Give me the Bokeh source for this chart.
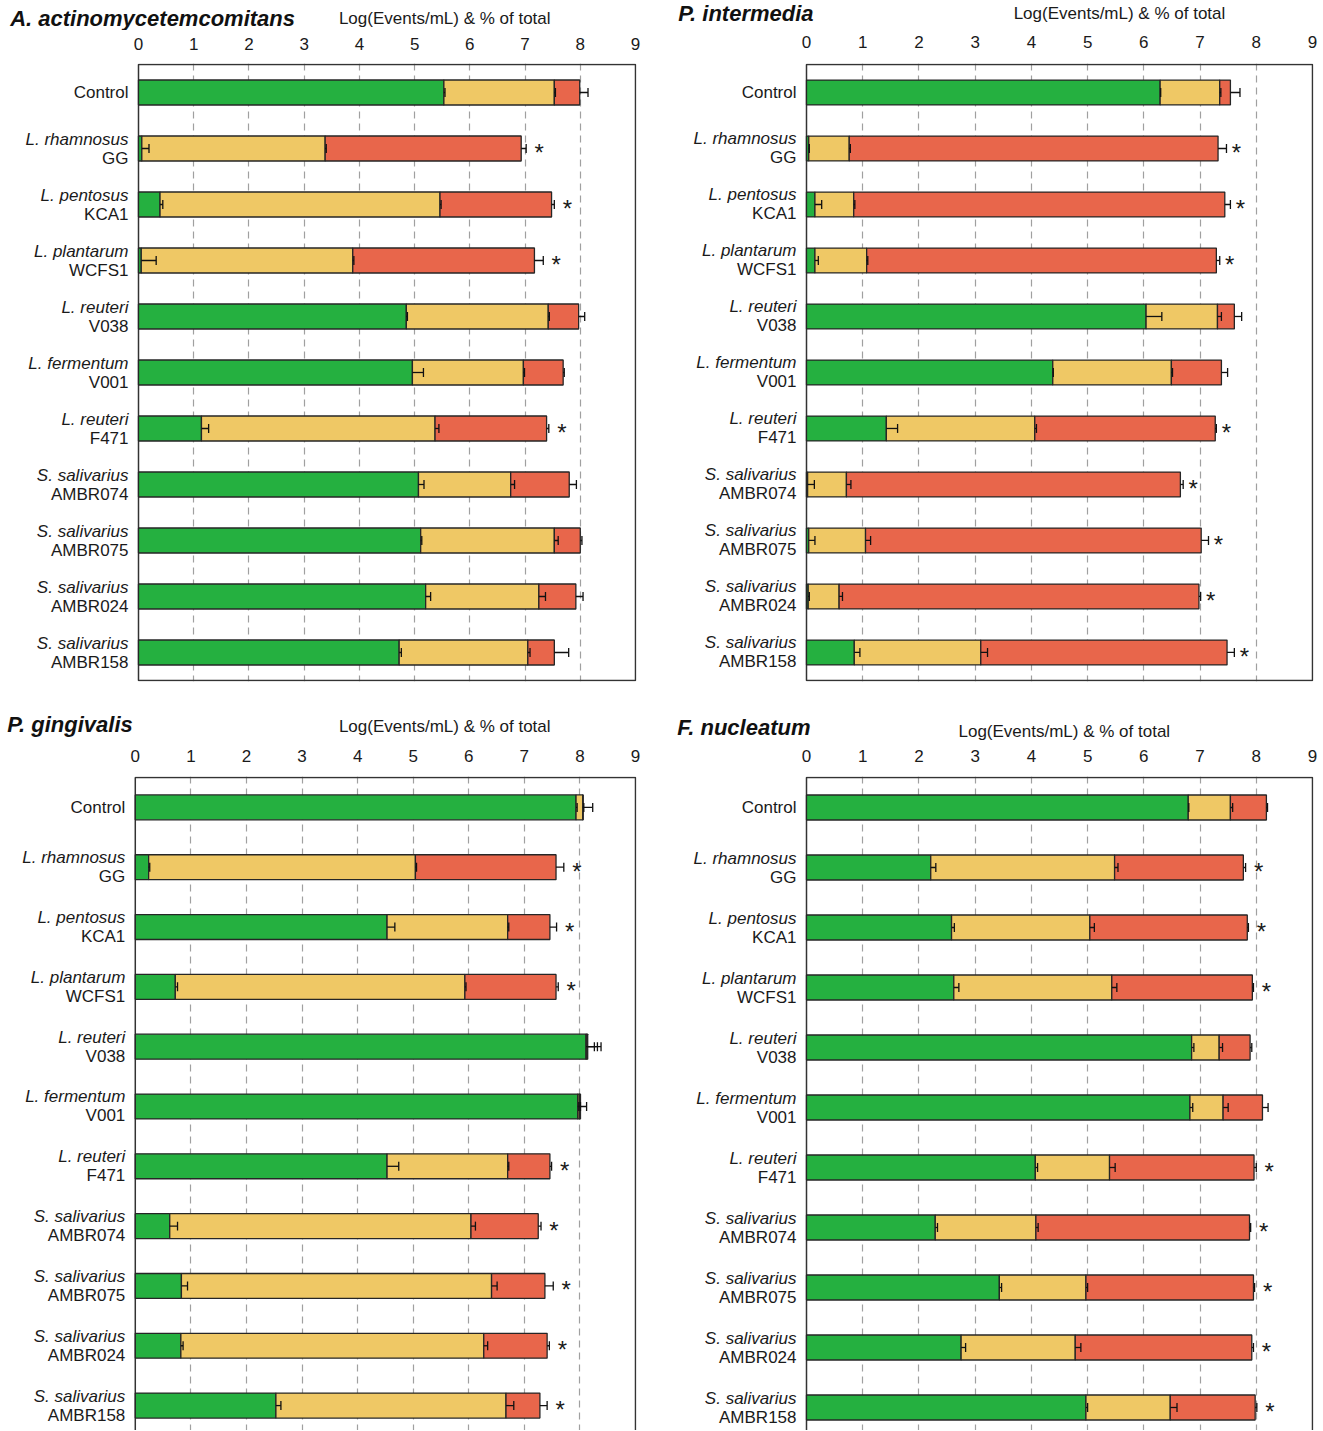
from bokeh.plotting import figure
from bokeh.models import Range1d, FixedTicker, ColumnDataSource
from bokeh.layouts import gridplot
from bokeh.embed import file_html
from bokeh.resources import INLINE
from bokeh.core.properties import value

# ---------------- data ----------------
species = ["", "L. rhamnosus", "L. pentosus", "L. plantarum", "L. reuteri", "L. fermentum",
           "L. reuteri", "S. salivarius", "S. salivarius", "S. salivarius", "S. salivarius"]
strains = ["Control", "GG", "KCA1", "WCFS1", "V038", "V001", "F471",
           "AMBR074", "AMBR075", "AMBR024", "AMBR158"]
x_ticks = [0, 1, 2, 3, 4, 5, 6, 7, 8, 9]
axis_title = "Log(Events/mL) & % of total"

# Panel A: A. actinomycetemcomitans (cumulative segment ends)
a_green = [5.53, 0.06, 0.39, 0.05, 4.85, 4.96, 1.14, 5.07, 5.11, 5.20, 4.72]
a_yellow = [7.53, 3.38, 5.46, 3.88, 7.42, 6.97, 5.37, 6.74, 7.53, 7.25, 7.05]
a_total = [7.99, 6.93, 7.48, 7.17, 7.97, 7.69, 7.39, 7.80, 8.00, 7.92, 7.53]
a_green_err = [0.02, 0.13, 0.05, 0.27, 0.02, 0.20, 0.13, 0.10, 0.02, 0.09, 0.04]
a_yellow_err = [0.02, 0.02, 0.02, 0.02, 0.02, 0.02, 0.07, 0.07, 0.07, 0.12, 0.04]
a_total_err = [0.15, 0.09, 0.05, 0.16, 0.11, 0.02, 0.04, 0.13, 0.03, 0.13, 0.26]
a_sig = [0, 1, 1, 1, 0, 0, 1, 0, 0, 0, 0]

# Panel B: P. intermedia
b_green = [6.29, 0.04, 0.15, 0.15, 6.04, 4.38, 1.42, 0.02, 0.04, 0.03, 0.85]
b_yellow = [7.35, 0.76, 0.84, 1.07, 7.31, 6.49, 4.06, 0.71, 1.05, 0.58, 3.10]
b_total = [7.54, 7.32, 7.44, 7.29, 7.61, 7.38, 7.27, 6.65, 7.02, 6.98, 7.48]
b_green_err = [0.01, 0.01, 0.12, 0.06, 0.28, 0.01, 0.20, 0.12, 0.11, 0.02, 0.10]
b_yellow_err = [0.02, 0.02, 0.02, 0.02, 0.07, 0.02, 0.03, 0.08, 0.09, 0.06, 0.12]
b_total_err = [0.17, 0.15, 0.10, 0.06, 0.13, 0.11, 0.02, 0.05, 0.13, 0.03, 0.13]
b_sig = [0, 1, 1, 1, 0, 0, 1, 1, 1, 1, 1]

# Panel C: P. gingivalis
c_green = [7.93, 0.24, 4.53, 0.72, 8.11, 7.96, 4.53, 0.62, 0.83, 0.82, 2.53]
c_yellow = [8.05, 5.04, 6.70, 5.93, 8.125, 7.99, 6.70, 6.04, 6.41, 6.27, 6.67]
c_total = [8.06, 7.57, 7.46, 7.57, 8.14, 8.01, 7.46, 7.25, 7.37, 7.41, 7.28]
c_green_err = [0.02, 0.02, 0.14, 0.04, 0.15, 0.02, 0.21, 0.14, 0.11, 0.04, 0.09]
c_yellow_err = [0.02, 0.02, 0.02, 0.02, 0.19, 0.02, 0.02, 0.08, 0.10, 0.07, 0.14]
c_total_err = [0.17, 0.14, 0.12, 0.04, 0.24, 0.11, 0.03, 0.05, 0.15, 0.04, 0.13]
c_sig = [0, 1, 1, 1, 0, 0, 1, 1, 1, 1, 1]

# Panel D: F. nucleatum
d_green = [6.79, 2.21, 2.58, 2.62, 6.85, 6.82, 4.07, 2.29, 3.43, 2.75, 4.97]
d_yellow = [7.54, 5.48, 5.04, 5.43, 7.34, 7.41, 5.39, 4.08, 4.97, 4.78, 6.47]
d_total = [8.18, 7.77, 7.84, 7.93, 7.89, 8.11, 7.96, 7.88, 7.95, 7.92, 7.98]
d_green_err = [0.01, 0.09, 0.05, 0.09, 0.04, 0.05, 0.04, 0.04, 0.04, 0.08, 0.03]
d_yellow_err = [0.04, 0.06, 0.08, 0.09, 0.06, 0.09, 0.10, 0.04, 0.03, 0.10, 0.12]
d_total_err = [0.02, 0.04, 0.02, 0.02, 0.03, 0.10, 0.04, 0.02, 0.02, 0.03, 0.03]
d_sig = [0, 1, 1, 1, 0, 0, 1, 1, 1, 1, 1]

# ---------------- style ----------------
GREEN = "#25B040"
YELLOW = "#EFC865"
RED = "#E8664B"
EDGE = "#262626"
FONT = "Liberation Sans"
TXT = "#1a1a1a"


def make_header(title, width, height, title_x, title_y, lab_x, lab_y):
    h = figure(width=width, height=height,
               x_range=Range1d(0, width), y_range=Range1d(height, 0),
               x_axis_location=None, y_axis_location=None,
               output_backend="svg", toolbar_location=None,
               min_border_left=0, min_border_right=0,
               min_border_top=0, min_border_bottom=0)
    h.outline_line_color = None
    h.xgrid.visible = False
    h.ygrid.visible = False
    h.text(x=[title_x], y=[title_y], text=[title],
           text_font=value(FONT), text_font_size="22px", text_font_style="bold italic",
           text_color="#111111", text_align="left", text_baseline="middle")
    h.text(x=[lab_x], y=[lab_y], text=[axis_title],
           text_font=value(FONT), text_font_size="17px",
           text_color=TXT, text_align="center", text_baseline="middle")
    return h


def make_panel(green, yellow, total, ge, ye, te, sig,
               fig_w, fig_h, fig_y0, box_left, box_right, box_top, row_px,
               frame_bottom, standoff, star_dx):
    """All *_left/_right/_top/_bottom are pixel positions relative to the panel column."""
    n = len(strains)
    ys = [i + 0.5 for i in range(n)]
    unit = (box_right - box_left) / 9.0
    frame_right = box_right + 1
    frame_top = box_top - 1
    x_start = -box_left / unit
    x_end = 9 + 1.0 / unit
    y_top = -1.0 / row_px
    y_bot = (frame_bottom - box_top) / row_px

    p = figure(width=fig_w, height=fig_h,
               x_range=Range1d(x_start, x_end), y_range=Range1d(y_bot, y_top),
               x_axis_location="above", y_axis_location=None,
               output_backend="svg", toolbar_location=None,
               min_border_left=0, min_border_right=fig_w - frame_right,
               min_border_top=frame_top - fig_y0,
               min_border_bottom=fig_y0 + fig_h - frame_bottom)
    p.background_fill_color = "white"
    p.border_fill_color = "white"
    p.outline_line_color = None

    ax = p.xaxis[0]
    ax.ticker = FixedTicker(ticks=x_ticks)
    ax.major_tick_line_color = None
    ax.minor_tick_line_color = None
    ax.major_tick_out = 0
    ax.major_tick_in = 0
    ax.axis_line_color = None
    ax.major_label_standoff = standoff
    ax.major_label_text_font = FONT
    ax.major_label_text_font_size = "17px"
    ax.major_label_text_color = TXT

    p.xgrid.ticker = FixedTicker(ticks=x_ticks[1:-1])
    p.xgrid.grid_line_color = "#a0a0a0"
    p.xgrid.grid_line_dash = "7 5"
    p.xgrid.grid_line_width = 1.2
    p.ygrid.visible = False

    # plot box
    p.quad(left=[x_ticks[0]], right=[x_ticks[-1]], top=[0], bottom=[n],
           fill_color=None, line_color="#333333", line_width=1.5)

    bar_h = 25.0 / row_px
    cap = 4.5 / row_px
    src = ColumnDataSource(dict(
        y=ys, zero=[0] * n, g=green, yl=yellow, t=total,
        ge_end=[a + b for a, b in zip(green, ge)],
        ye_end=[a + b for a, b in zip(yellow, ye)],
        te_end=[a + b for a, b in zip(total, te)],
        cap_lo=[v - cap for v in ys], cap_hi=[v + cap for v in ys],
    ))
    p.hbar(y="y", left="zero", right="g", height=bar_h, source=src,
           fill_color=GREEN, line_color=EDGE, line_width=1.3)
    p.hbar(y="y", left="g", right="yl", height=bar_h, source=src,
           fill_color=YELLOW, line_color=EDGE, line_width=1.3)
    p.hbar(y="y", left="yl", right="t", height=bar_h, source=src,
           fill_color=RED, line_color=EDGE, line_width=1.3)

    for start, end in (("g", "ge_end"), ("yl", "ye_end"), ("t", "te_end")):
        p.segment(x0=start, x1=end, y0="y", y1="y", source=src,
                  line_color="#111111", line_width=1.3)
        p.segment(x0=end, x1=end, y0="cap_lo", y1="cap_hi", source=src,
                  line_color="#111111", line_width=1.3)

    sx, sy = [], []
    for i in range(n):
        if sig[i]:
            sx.append(max(green[i] + ge[i], yellow[i] + ye[i], total[i] + te[i]))
            sy.append(ys[i])
    p.text(x=sx, y=sy, text=["*"] * len(sx), x_offset=star_dx, y_offset=4,
           text_font=value(FONT), text_font_size="24px", text_color=TXT,
           text_align="center", text_baseline="middle")

    # category labels
    sp_y = [ys[i] for i in range(n) if species[i]]
    sp_t = [species[i] for i in range(n) if species[i]]
    st_y = [ys[i] for i in range(n) if species[i]]
    st_t = [strains[i] for i in range(n) if species[i]]
    one_y = [ys[i] for i in range(n) if not species[i]]
    one_t = [strains[i] for i in range(n) if not species[i]]
    p.text(x=[0] * len(sp_y), y=sp_y, text=sp_t, x_offset=-10, y_offset=-9.5,
           text_font=value(FONT), text_font_size="17px", text_font_style="italic",
           text_color=TXT, text_align="right", text_baseline="middle")
    p.text(x=[0] * len(st_y), y=st_y, text=st_t, x_offset=-10, y_offset=9.5,
           text_font=value(FONT), text_font_size="17px",
           text_color=TXT, text_align="right", text_baseline="middle")
    p.text(x=[0] * len(one_y), y=one_y, text=one_t, x_offset=-10, y_offset=0,
           text_font=value(FONT), text_font_size="17px",
           text_color=TXT, text_align="right", text_baseline="middle")
    return p


W1, W2 = 660, 663
H_HEAD1, H_MAIN1 = 30, 670
H_HEAD2, H_MAIN2 = 40, 690

ha = make_header("A. actinomycetemcomitans", W1, H_HEAD1, 10, 18, 461, 18)
hb = make_header("P. intermedia", W2, H_HEAD1, 18, 13, 466, 13)
hc = make_header("P. gingivalis", W1, H_HEAD2, 7, 24, 461, 26)
hd = make_header("F. nucleatum", W2, H_HEAD2, 17, 27, 410, 31)

# pixel geometry measured relative to each panel's column / row block
pa = make_panel(a_green, a_yellow, a_total, a_green_err, a_yellow_err, a_total_err, a_sig,
                fig_w=W1, fig_h=H_MAIN1, fig_y0=30, box_left=138, box_right=635,
                box_top=64, row_px=56.0, frame_bottom=681, standoff=14, star_dx=13)
pb = make_panel(b_green, b_yellow, b_total, b_green_err, b_yellow_err, b_total_err, b_sig,
                fig_w=W2, fig_h=H_MAIN1, fig_y0=30, box_left=146, box_right=652,
                box_top=60, row_px=56.36, frame_bottom=681, standoff=16, star_dx=10)
pc = make_panel(c_green, c_yellow, c_total, c_green_err, c_yellow_err, c_total_err, c_sig,
                fig_w=W1, fig_h=H_MAIN2, fig_y0=740, box_left=135, box_right=636,
                box_top=775, row_px=60.0, frame_bottom=1430, standoff=15, star_dx=13)
pd_ = make_panel(d_green, d_yellow, d_total, d_green_err, d_yellow_err, d_total_err, d_sig,
                 fig_w=W2, fig_h=H_MAIN2, fig_y0=740, box_left=146, box_right=652,
                 box_top=777, row_px=60.0, frame_bottom=1430, standoff=15, star_dx=13)

grid = gridplot([[ha, hb], [pa, pb], [hc, hd], [pc, pd_]], toolbar_location=None)

with open("out.html", "w") as f:
    f.write(file_html(grid, INLINE))
